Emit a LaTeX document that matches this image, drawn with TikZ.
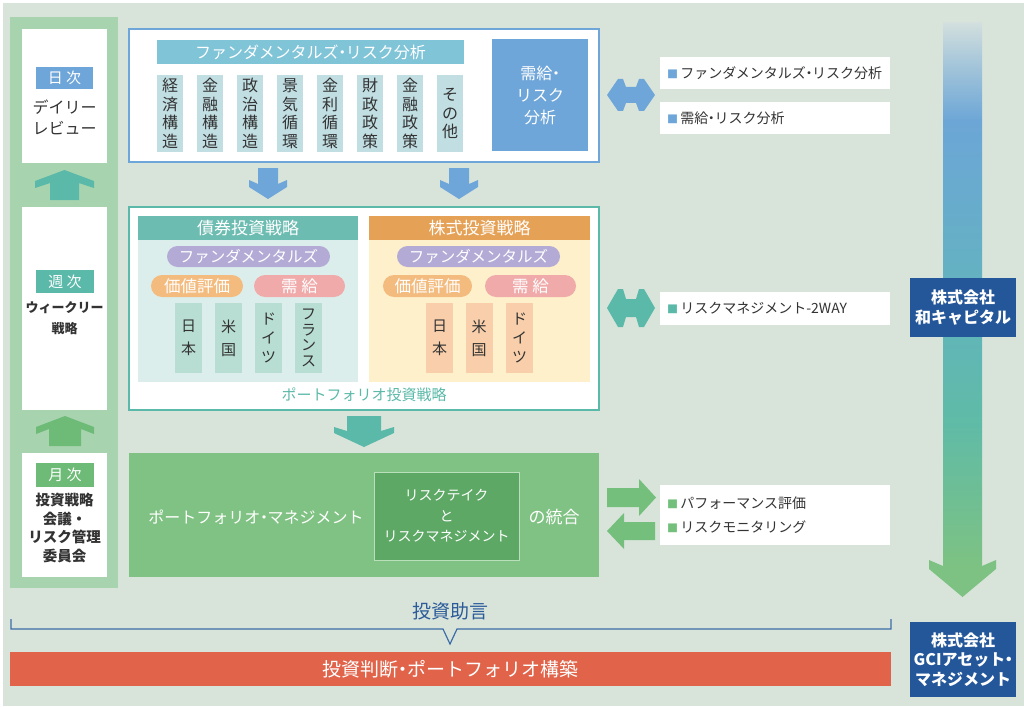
\documentclass[tikz,border=0pt]{standalone}
\usepackage{fontspec}
\setmainfont{Noto Sans CJK JP}
\newcommand{\myfs}[2]{\fontsize{#1}{#2}\selectfont}
\newcommand{\dt}{\kern-0.28em・\kern-0.28em}
\definecolor{bgc}{HTML}{D8E4DA}
\definecolor{leftc}{HTML}{A7D4AF}
\definecolor{txtc}{HTML}{333333}
\definecolor{bluec}{HTML}{6FA6D9}
\definecolor{cyanc}{HTML}{80C4D8}
\definecolor{colfill}{HTML}{C1DEE3}
\definecolor{tealc}{HTML}{5BB9A9}
\definecolor{bondh}{HTML}{6CBCB1}
\definecolor{bondb}{HTML}{DCEEEB}
\definecolor{stockh}{HTML}{E5A257}
\definecolor{stockb}{HTML}{FDF0CB}
\definecolor{purc}{HTML}{B3ABD6}
\definecolor{orc}{HTML}{F3BB7E}
\definecolor{pinkc}{HTML}{F0AAAA}
\definecolor{gcol}{HTML}{B8DDD2}
\definecolor{pcol}{HTML}{F8CFAA}
\definecolor{greenbox}{HTML}{80C283}
\definecolor{greendark}{HTML}{5EA866}
\definecolor{greenline}{HTML}{B9E0BB}
\definecolor{greenA}{HTML}{74BF7C}
\definecolor{greenL}{HTML}{6DBB77}
\definecolor{compc}{HTML}{24579A}
\definecolor{redc}{HTML}{E0634A}
\definecolor{brc}{HTML}{3C6DA6}
\definecolor{advc}{HTML}{2C5B9A}
\definecolor{barG}{HTML}{7DC283}
\definecolor{barT}{HTML}{60BBA6}
\definecolor{barTB}{HTML}{62B4BD}
\definecolor{barB2}{HTML}{68ACCC}
\definecolor{barB}{HTML}{6CA6D6}
\definecolor{barL}{HTML}{A9C8DA}
\definecolor{barTop}{HTML}{D2DFDE}
\pgfdeclareverticalshading{barshade}{100bp}{color(0bp)=(barG); color(25bp)=(barG); color(38bp)=(barT); color(49bp)=(barTB); color(58bp)=(barB2); color(66bp)=(barB); color(71.6bp)=(barL); color(75bp)=(barTop); color(100bp)=(barTop)}
\begin{document}
\begin{tikzpicture}[x=1pt,y=-1pt,
  every node/.style={inner sep=0pt, outer sep=0pt, text=txtc},
  lab/.style={text=white, font=\myfs{15}{15}},
  colA/.style={fill=colfill, minimum width=26, minimum height=77, align=center, font=\myfs{16}{18.5}},
  ctry/.style={minimum width=27, minimum height=70, align=center},
  pill/.style={text=white, font=\myfs{15.5}{15.5}},
  lbl/.style={fill=white, text width=216, inner xsep=7, align=left},
  comp/.style={fill=compc, text=white, minimum width=106, align=center, font=\bfseries\myfs{16}{20}}]
\useasboundingbox (0,0) rectangle (1024,706);
\fill[white] (0,0) rectangle (1024,706);
\fill[bgc] (3,3) rectangle (1024,706);

% ---------- left column ----------
\fill[leftc] (10,17) rectangle (118,588);
\fill[white] (22,29) rectangle (107,163);
\fill[white] (22,207) rectangle (107,410);
\fill[white] (22,453) rectangle (107,577);
\node[lab, fill=bluec, minimum width=57, minimum height=22] (day) at (64.5,78) {日 次};
\node[font=\myfs{16}{21}, align=center] (dayt) at (64.5,117) {デイリー\\レビュー};
\node[lab, fill=tealc, minimum width=58, minimum height=23] (week) at (65,281.5) {週 次};
\node[font=\bfseries\myfs{13}{21}, align=center] (weekt) at (64.5,318.5) {ウィークリー\\戦略};
\node[lab, fill=greenL, minimum width=58, minimum height=24] (month) at (65,475) {月 次};
\node[font=\bfseries\myfs{14.5}{18.5}, align=center] (montht) at (64.5,528) {投資戦略\\会議・\\リスク管理\\委員会};
\fill[tealc] (64.5,170) -- (94,181) -- (94,188) -- (79,183) -- (79,200) -- (50,200) -- (50,183) -- (35,188) -- (35,181) -- cycle;
\fill[greenL] (65,416) -- (94,427) -- (94,434) -- (81,429) -- (81,446) -- (49,446) -- (49,429) -- (36,434) -- (36,427) -- cycle;

% ---------- top analysis box ----------
\draw[bluec, line width=2, fill=white] (129,29) rectangle (599,162);
\node[fill=cyanc, minimum width=307, minimum height=24, text=white, font=\myfs{16}{16}] (fra) at (310.5,52) {ファンダメンタルズ\dt リスク分析};
\node[colA] (c1) at (170,113.5) {経\\済\\構\\造};
\node[colA] (c2) at (210,113.5) {金\\融\\構\\造};
\node[colA] (c3) at (250,113.5) {政\\治\\構\\造};
\node[colA] (c4) at (290,113.5) {景\\気\\循\\環};
\node[colA] (c5) at (330,113.5) {金\\利\\循\\環};
\node[colA] (c6) at (370,113.5) {財\\政\\政\\策};
\node[colA] (c7) at (410,113.5) {金\\融\\政\\策};
\node[colA] (c8) at (450,113.5) {そ\\の\\他};
\node[fill=bluec, minimum width=96, minimum height=112, text=white, align=center, font=\myfs{16}{22}] (sd) at (540,95) {需給\dt\\リスク\\分析};

\foreach \cx in {268,459}
  \fill[bluec, shift={(\cx,0)}] (-10,168) -- (10,168) -- (10,184) -- (19,180) -- (19,187) -- (0,199) -- (-19,187) -- (-19,180) -- (-10,184) -- cycle;

\fill[bluec, shift={(631,95)}] (-24,0) -- (-13,-16) -- (-8,-16) -- (-5,-8) -- (5,-8) -- (8,-16) -- (13,-16) -- (24,0) -- (13,16) -- (8,16) -- (5,8) -- (-5,8) -- (-8,16) -- (-13,16) -- cycle;
\node[lbl, anchor=north west, minimum height=32, font=\myfs{14}{16}] (l1) at (660,57) {\textcolor{bluec}{\myfs{11}{11}■}\,ファンダメンタルズ\dt リスク分析};
\node[lbl, anchor=north west, minimum height=32, font=\myfs{14}{16}] (l2) at (660,102) {\textcolor{bluec}{\myfs{11}{11}■}\,需給\dt リスク分析};

% ---------- portfolio investment box ----------
\draw[tealc, line width=2, fill=white] (129,207) rectangle (599,410);
\fill[bondb] (138,240) rectangle (358,382);
\fill[stockb] (369,240) rectangle (590,382);
\node[fill=bondh, minimum width=220, minimum height=24, text=white, font=\myfs{17}{17}] (bond) at (248,228) {債券投資戦略};
\node[fill=stockh, minimum width=221, minimum height=24, text=white, font=\myfs{17}{17}] (stock) at (479.5,228) {株式投資戦略};
\node[pill, fill=purc, minimum width=163, minimum height=21, rounded corners=10.5] (fd1) at (248.5,256.5) {ファンダメンタルズ};
\node[pill, fill=orc, minimum width=92, minimum height=22, rounded corners=11, font=\myfs{16.5}{16.5}] (va1) at (197,286) {価値評価};
\node[pill, fill=pinkc, minimum width=91, minimum height=22, rounded corners=11, font=\myfs{16.5}{16.5}] (sg1) at (299.5,286) {需 給};
\node[pill, fill=purc, minimum width=163, minimum height=21, rounded corners=10.5] (fd2) at (478.5,256.5) {ファンダメンタルズ};
\node[pill, fill=orc, minimum width=89, minimum height=22, rounded corners=11, font=\myfs{16.5}{16.5}] (va2) at (427.5,286) {価値評価};
\node[pill, fill=pinkc, minimum width=91, minimum height=22, rounded corners=11, font=\myfs{16.5}{16.5}] (sg2) at (530.5,286) {需 給};
\node[ctry, fill=gcol, font=\myfs{15}{23}] (b1) at (188.5,338) {日\\本};
\node[ctry, fill=gcol, font=\myfs{15}{23}] (b2) at (228.5,338) {米\\国};
\node[ctry, fill=gcol, font=\myfs{15}{19}] (b3) at (268.5,338) {ド\\イ\\ツ};
\node[ctry, fill=gcol, font=\myfs{15}{15.5}] (b4) at (308.5,338) {フ\\ラ\\ン\\ス};
\node[ctry, fill=pcol, font=\myfs{15}{23}] (s1) at (439.5,338) {日\\本};
\node[ctry, fill=pcol, font=\myfs{15}{23}] (s2) at (479,338) {米\\国};
\node[ctry, fill=pcol, font=\myfs{15}{19}] (s3) at (519.5,338) {ド\\イ\\ツ};
\node[text=tealc, font=\myfs{15}{15}] (pfs) at (364,395) {ポートフォリオ投資戦略};

\fill[tealc] (347,416) -- (381,416) -- (381,431) -- (394,427) -- (394,433) -- (364,447) -- (334,433) -- (334,427) -- (347,431) -- cycle;

\fill[tealc, shift={(631,308)}] (-24,0) -- (-13,-19) -- (-8,-19) -- (-5,-9) -- (5,-9) -- (8,-19) -- (13,-19) -- (24,0) -- (13,19) -- (8,19) -- (5,9) -- (-5,9) -- (-8,19) -- (-13,19) -- cycle;
\node[lbl, anchor=north west, minimum height=33, font=\myfs{14}{16}] (l3) at (660,292) {\textcolor{tealc}{\myfs{11}{11}■}\,リスクマネジメント-2WAY};

% ---------- portfolio management ----------
\fill[greenbox] (129,453) rectangle (599,577);
\node[fill=greendark, draw=greenline, line width=1, minimum width=145, minimum height=88, text=white, align=center, font=\myfs{14}{20.5}] (rt) at (446.5,516) {リスクテイク\\と\\リスクマネジメント};
\node[text=white, font=\myfs{16}{16}] (pm) at (256,517) {ポートフォリオ\dt マネジメント};
\node[text=white, font=\myfs{17}{17}] (tg) at (554,517) {の統合};

\fill[greenA] (607,488) -- (639,488) -- (639,479) -- (656,497.5) -- (639,516) -- (639,507) -- (607,507) -- cycle;
\fill[greenA] (655,522) -- (624,522) -- (624,513) -- (607,531) -- (624,549) -- (624,540) -- (655,540) -- cycle;
\node[lbl, anchor=north west, minimum height=60, font=\myfs{14}{24}] (l4) at (660,485) {\textcolor{greenA}{\myfs{11}{11}■}\,パフォーマンス評価\\\textcolor{greenA}{\myfs{11}{11}■}\,リスクモニタリング};

% ---------- right bar ----------
\shade[shading=barshade] (943,23) rectangle (982,566);
\fill[barG] (943,566) -- (929,560) -- (929,569) -- (962.5,597) -- (996,569) -- (996,560) -- (982,566) -- cycle;
\node[comp, minimum height=59] (wa) at (963,307.5) {株式会社\\和キャピタル};
\node[comp, minimum height=75, font=\bfseries\myfs{16}{19.5}] (gci) at (963,659.5) {株式会社\\GCIアセット\dt\\マネジメント};

% ---------- bottom ----------
\draw[brc, line width=1.2] (11,619) -- (11,629) -- (443,629) -- (450,644) -- (457,629) -- (891,629) -- (891,619);
\node[text=advc, font=\myfs{19}{19}] (adv) at (450,611) {投資助言};
\node[fill=redc, minimum width=881, minimum height=34, text=white, font=\myfs{19}{19}] (red) at (450.5,669) {投資判断\dt ポートフォリオ構築};
\end{tikzpicture}
\end{document}
